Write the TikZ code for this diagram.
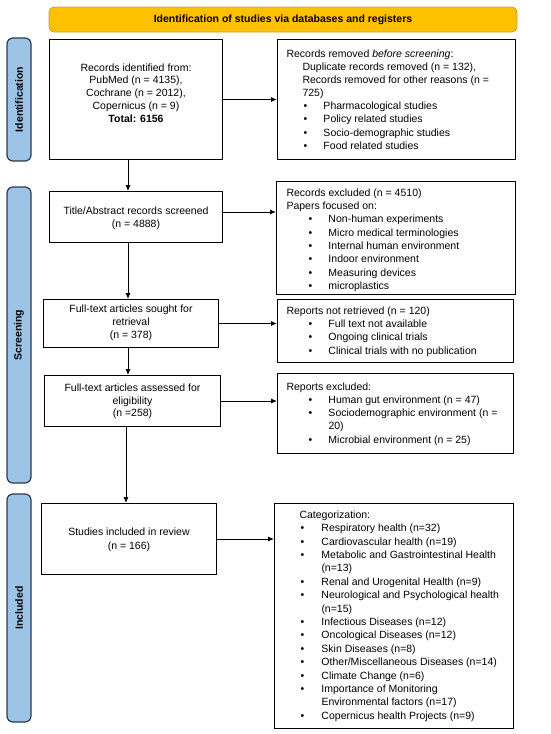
\documentclass[tikz,border=0pt]{standalone}
\usepackage{fontspec}
\setmainfont{Liberation Sans}
\usetikzlibrary{arrows.meta}
\definecolor{headfill}{HTML}{FFC000}
\definecolor{headdraw}{HTML}{C9A227}
\definecolor{sidefill}{HTML}{9DC3E6}
\definecolor{sidedraw}{HTML}{2E3A4A}
\newlength\bx \newlength\tx
\newcommand{\fs}{\fontsize{10.5}{13.2}\selectfont}
\newcommand{\fsb}[1]{\fontsize{10.5}{#1}\selectfont}
\newcommand{\firstl}[3]{\noindent\hspace*{#1}\rule{0pt}{#2}\strut #3}
\newcommand{\pitem}[2]{\par\noindent\hspace*{#1}\strut #2}
\newcommand{\bitem}[1]{\par\noindent\hspace*{\bx}\makebox[0pt][c]{\textbullet}\hspace*{\dimexpr\tx-\bx\relax}\strut #1}
\newcommand{\citem}[1]{\par\noindent\hspace*{\tx}\strut #1}
\newcommand{\cbox}[4]{\parbox[t][#2][t]{#1}{\fontsize{10.5}{#3}\selectfont\centering #4}}
\begin{document}
\begin{tikzpicture}[x=1pt,y=-1pt,
  box/.style={draw=black,line width=1pt,inner sep=0pt,anchor=north west},
  head/.style={draw=headdraw,line width=0.8pt,fill=headfill,rounded corners=5pt,minimum width=468pt,minimum height=25pt,inner sep=0pt,font=\fs\bfseries},
  side/.style={draw=sidedraw,line width=1.2pt,fill=sidefill,rounded corners=6pt,inner sep=0pt,minimum width=24pt},
  sidelabel/.style={rotate=90,font=\fs\bfseries,inner sep=0pt},
  arr/.style={draw=black,line width=0.9pt,-{Latex[length=6pt,width=5pt]}}]
\useasboundingbox (0,0) rectangle (550,734);
% header
\node[head] (h) at (283,19.5) {Identification of studies via databases and registers};
% sidebars
\node[side,minimum height=123pt] (s1) at (19,99.5) {};
\node[sidelabel] (s1t) at (s1.center) {Identification};
\node[side,minimum height=296pt] (s2) at (19,335) {};
\node[sidelabel] (s2t) at (s2.center) {Screening};
\node[side,minimum height=228pt] (s3) at (19,608) {};
\node[sidelabel] (s3t) at (s3.center) {Included};
% left column
\node[box] (b1) at (49,39) {\cbox{173pt}{120pt}{12.75pt}{\rule{0pt}{31.7pt}Records identified from:\\ PubMed (n = 4135),\\ Cochrane (n = 2012),\\ Copernicus (n = 9)\\ \textbf{Total: 6156}}};
\node[box] (b2) at (49,191) {\cbox{173pt}{51pt}{13pt}{\rule{0pt}{22.7pt}Title/Abstract records screened\\ (n = 4888)}};
\node[box] (b3) at (43,299) {\cbox{175pt}{48pt}{13pt}{\rule{0pt}{12.7pt}Full-text articles sought for\\ retrieval\\ (n = 378)}};
\node[box] (b4) at (44,375) {\cbox{176pt}{51pt}{12.8pt}{\rule{0pt}{15.7pt}Full-text articles assessed for\\ eligibility\\ (n =258)}};
\node[box] (b5) at (41,503) {\cbox{175pt}{71pt}{14pt}{\rule{0pt}{31.7pt}Studies included in review\\ (n = 166)}};
% right column
\node[box] (r1) at (277,39) {\parbox[t][120pt][t]{238pt}{\fsb{13.15pt}\setlength\bx{28pt}\setlength\tx{46pt}%
\firstl{9pt}{17.7pt}{Records removed \textit{before screening}:}%
\pitem{25pt}{Duplicate records removed (n = 132),}%
\pitem{25pt}{Records removed for other reasons (n =}%
\pitem{25pt}{725)}%
\bitem{Pharmacological studies}%
\bitem{Policy related studies}%
\bitem{Socio-demographic studies}%
\bitem{Food related studies}}};
\node[box] (r2) at (276,181) {\parbox[t][113pt][t]{239pt}{\fsb{13.3pt}\setlength\bx{34pt}\setlength\tx{52pt}%
\firstl{10pt}{14.7pt}{Records excluded (n = 4510)}%
\pitem{10pt}{Papers focused on:}%
\bitem{Non-human experiments}%
\bitem{Micro medical terminologies}%
\bitem{Internal human environment}%
\bitem{Indoor environment}%
\bitem{Measuring devices}%
\bitem{microplastics}}};
\node[box] (r3) at (277,299) {\parbox[t][63pt][t]{236pt}{\fsb{13.3pt}\setlength\bx{33pt}\setlength\tx{51pt}%
\firstl{9pt}{14.7pt}{Reports not retrieved (n = 120)}%
\bitem{Full text not available}%
\bitem{Ongoing clinical trials}%
\bitem{Clinical trials with no publication}}};
\node[box] (r4) at (277,373) {\parbox[t][80pt][t]{236pt}{\fsb{13.25pt}\setlength\bx{33pt}\setlength\tx{51pt}%
\firstl{9pt}{16.7pt}{Reports excluded:}%
\bitem{Human gut environment (n = 47)}%
\bitem{Sociodemographic environment (n =}%
\citem{20)}%
\bitem{Microbial environment (n = 25)}}};
\node[box] (r5) at (274,503) {\parbox[t][225pt][t]{239pt}{\fsb{13.4pt}\setlength\bx{28pt}\setlength\tx{47pt}%
\firstl{25pt}{14.7pt}{Categorization:}%
\bitem{Respiratory health (n=32)}%
\bitem{Cardiovascular health (n=19)}%
\bitem{Metabolic and Gastrointestinal Health}%
\citem{(n=13)}%
\bitem{Renal and Urogenital Health (n=9)}%
\bitem{Neurological and Psychological health}%
\citem{(n=15)}%
\bitem{Infectious Diseases (n=12)}%
\bitem{Oncological Diseases (n=12)}%
\bitem{Skin Diseases (n=8)}%
\bitem{Other/Miscellaneous Diseases (n=14)}%
\bitem{Climate Change (n=6)}%
\bitem{Importance of Monitoring}%
\citem{Environmental factors (n=17)}%
\bitem{Copernicus health Projects (n=9)}}};
% connectors
\coordinate (ax) at (128,0);
\coordinate (ay) at (126,0);
\coordinate (e2) at (222,212);
\draw[arr] (b1.east) -- (b1.east -| r1.west);
\draw[arr] (e2) -- (e2 -| r2.west);
\draw[arr] (b3.east) -- (b3.east -| r3.west);
\draw[arr] (b4.east) -- (b4.east -| r4.west);
\draw[arr] (b5.east) -- (b5.east -| r5.west);
\draw[arr] (b1.south -| ax) -- (b2.north -| ax);
\draw[arr] (b2.south -| ax) -- (b3.north -| ax);
\draw[arr] (b3.south -| ax) -- (b4.north -| ax);
\draw[arr] (b4.south -| ay) -- (b5.north -| ay);
\end{tikzpicture}
\end{document}
